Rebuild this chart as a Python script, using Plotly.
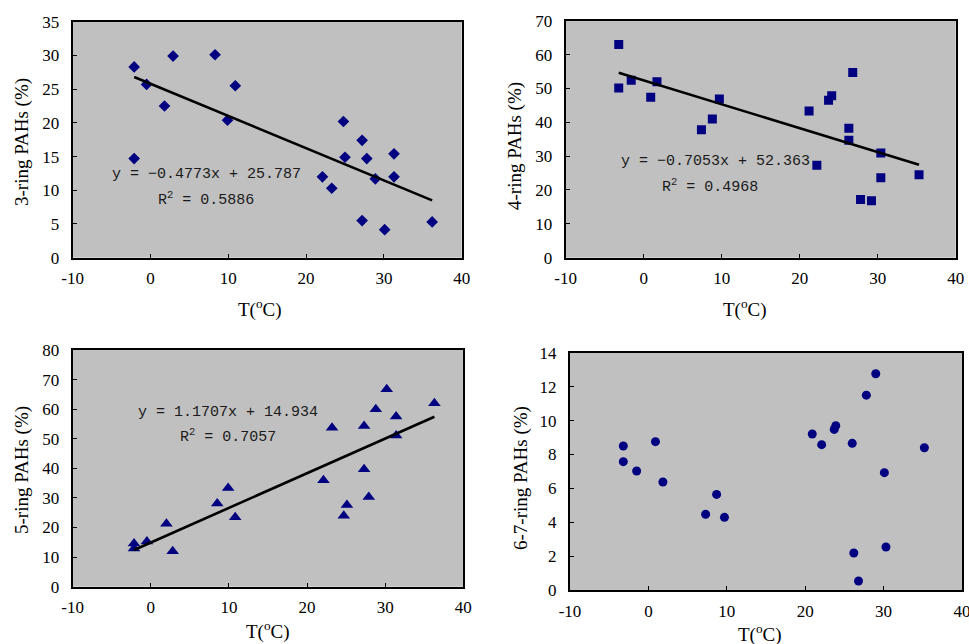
import plotly.graph_objects as go

W, H = 969, 644

# ---- data ----
t_3ring = [-2.1, -0.5, 1.8, 2.9, -2.1, 8.3, 10.9, 9.9, 24.8, 27.2, 25.0, 27.8, 31.3, 22.1, 23.3, 28.9, 31.3, 27.2, 30.1, 36.2]
pct_3ring = [28.3, 25.7, 22.5, 29.9, 14.7, 30.1, 25.5, 20.4, 20.2, 17.4, 14.9, 14.7, 15.4, 12.0, 10.3, 11.7, 12.0, 5.5, 4.15, 5.3]

t_4ring = [-3.2, -3.2, -1.6, 0.9, 1.7, 7.4, 8.8, 9.7, 21.2, 22.2, 23.7, 24.1, 26.8, 26.3, 26.3, 27.8, 29.2, 30.4, 30.4, 35.3]
pct_4ring = [63.0, 50.1, 52.4, 47.4, 52.0, 37.8, 41.0, 46.9, 43.3, 27.3, 46.5, 47.8, 54.7, 38.2, 34.7, 17.2, 16.8, 30.9, 23.6, 24.5]

t_5ring = [-2.15, -2.15, -0.5, 2.0, 2.8, 8.5, 9.9, 10.8, 22.1, 23.2, 24.7, 25.1, 27.3, 27.3, 27.9, 28.8, 30.2, 31.4, 31.4, 36.3]
pct_5ring = [14.6, 12.9, 15.3, 21.3, 12.0, 28.1, 33.4, 23.5, 36.0, 53.7, 24.0, 27.6, 54.3, 39.7, 30.3, 60.0, 66.7, 57.5, 51.1, 62.0]

t_67ring = [-3.2, -3.2, -1.5, 0.9, 1.85, 7.3, 8.7, 9.7, 20.9, 22.1, 23.7, 23.9, 26.0, 26.2, 26.8, 27.8, 29.0, 30.1, 30.3, 35.2]
pct_67ring = [8.5, 7.58, 7.03, 8.76, 6.38, 4.48, 5.65, 4.3, 9.21, 8.58, 9.48, 9.7, 8.66, 2.2, 0.55, 11.5, 12.76, 6.93, 2.55, 8.4]

trend_slope = [-0.4773, -0.7053, 1.1707]
trend_intercept = [25.787, 52.363, 14.934]
trend_r2 = ["0.5886", "0.4968", "0.7057"]
trend_eq = ["y = −0.4773x + 25.787", "y = −0.7053x + 52.363", "y = 1.1707x + 14.934"]

y_titles = ["3-ring PAHs (%)", "4-ring PAHs (%)", "5-ring PAHs (%)", "6-7-ring PAHs (%)"]
x_title = "T(<sup>o</sup>C)"
x_ticks = [-10, 0, 10, 20, 30, 40]
x_ticktext = ["-10", "0", "10", "20", "30", "40"]
y_ticks = [list(range(0, 36, 5)), list(range(0, 71, 10)), list(range(0, 81, 10)), list(range(0, 15, 2))]
symbols = ["diamond", "square", "triangle-up", "circle"]
msizes = [9, 9, 11, 9]

# ---- layout geometry (pixels) ----
boxes = [  # left, right, top, bottom
    (72.7, 461.7, 21.7, 257.7),
    (565.7, 955.7, 20.7, 257.7),
    (72.7, 463.3, 350.0, 586.7),
    (570.0, 962.0, 352.7, 590.3),
]
ytitle_pos = [(22, 142), (515, 146), (22, 470), (521, 478)]
xtitle_pos = [(260, 308), (745, 308), (268, 630), (760, 633)]
eq_pos = [((206, 174), (206, 199)), ((715, 162), (710, 186)), ((228, 412), (228, 436))]

xs = [t_3ring, t_4ring, t_5ring, t_67ring]
ys = [pct_3ring, pct_4ring, pct_5ring, pct_67ring]

navy = "#000080"
fig = go.Figure()
layout = dict(width=W, height=H, margin=dict(l=0, r=0, t=0, b=0, autoexpand=False),
              paper_bgcolor="white", plot_bgcolor="#c0c0c0", showlegend=False,
              font=dict(family="Liberation Serif, Times New Roman, serif", size=17, color="black"))
annotations = []

for i in range(4):
    l, r, t, b = boxes[i]
    sx = "" if i == 0 else str(i + 1)
    xa, ya = "x" + sx, "y" + sx
    fig.add_trace(go.Scatter(x=xs[i], y=ys[i], mode="markers", xaxis=xa, yaxis=ya,
                             marker=dict(symbol=symbols[i], size=msizes[i], color=navy,
                                         line=dict(width=0))))
    if i < 3:
        x0, x1 = min(xs[i]), max(xs[i])
        fig.add_trace(go.Scatter(x=[x0, x1],
                                 y=[trend_slope[i] * x0 + trend_intercept[i], trend_slope[i] * x1 + trend_intercept[i]],
                                 mode="lines", xaxis=xa, yaxis=ya,
                                 line=dict(color="black", width=2.6)))
        (ex1, ey1), (ex2, ey2) = eq_pos[i]
        for txt, ex, ey in [(trend_eq[i], ex1, ey1), ("R<sup>2</sup> = " + trend_r2[i], ex2, ey2)]:
            annotations.append(dict(x=ex / W, y=1 - ey / H, xref="paper", yref="paper",
                                    text=txt, showarrow=False, xanchor="center", yanchor="middle",
                                    font=dict(family="Liberation Mono, DejaVu Sans Mono, monospace",
                                              size=15, color="#1a1a1a")))
    axis_common = dict(showgrid=False, zeroline=False, showline=True, linecolor="black", linewidth=2,
                       mirror=True, ticks="inside", ticklen=4, tickcolor="black", tickwidth=1,
                       automargin=False, ticklabeloverflow="allow",
                       tickfont=dict(family="Liberation Serif, Times New Roman, serif", size=17, color="black"))
    layout["xaxis" + sx] = dict(axis_common, domain=[l / W, r / W], range=[-10, 40],
                                tickvals=x_ticks, ticktext=x_ticktext, anchor=ya, ticklabelstandoff=4)
    layout["yaxis" + sx] = dict(axis_common, domain=[1 - b / H, 1 - t / H],
                                range=[0, y_ticks[i][-1]], tickvals=y_ticks[i], anchor=xa,
                                ticklabelstandoff=8)
    yx, yy = ytitle_pos[i]
    annotations.append(dict(x=yx / W, y=1 - yy / H, xref="paper", yref="paper", text=y_titles[i],
                            showarrow=False, textangle=-90, xanchor="center", yanchor="middle",
                            font=dict(family="Liberation Serif, Times New Roman, serif", size=19)))
    tx, ty = xtitle_pos[i]
    annotations.append(dict(x=tx / W, y=1 - ty / H, xref="paper", yref="paper", text=x_title,
                            showarrow=False, xanchor="center", yanchor="middle",
                            font=dict(family="Liberation Serif, Times New Roman, serif", size=19)))

layout["annotations"] = annotations
fig.update_layout(**layout)
fig.write_html("out.html", config={"displayModeBar": False},
               post_script="document.body.style.margin='0';document.body.style.overflow='hidden';")
